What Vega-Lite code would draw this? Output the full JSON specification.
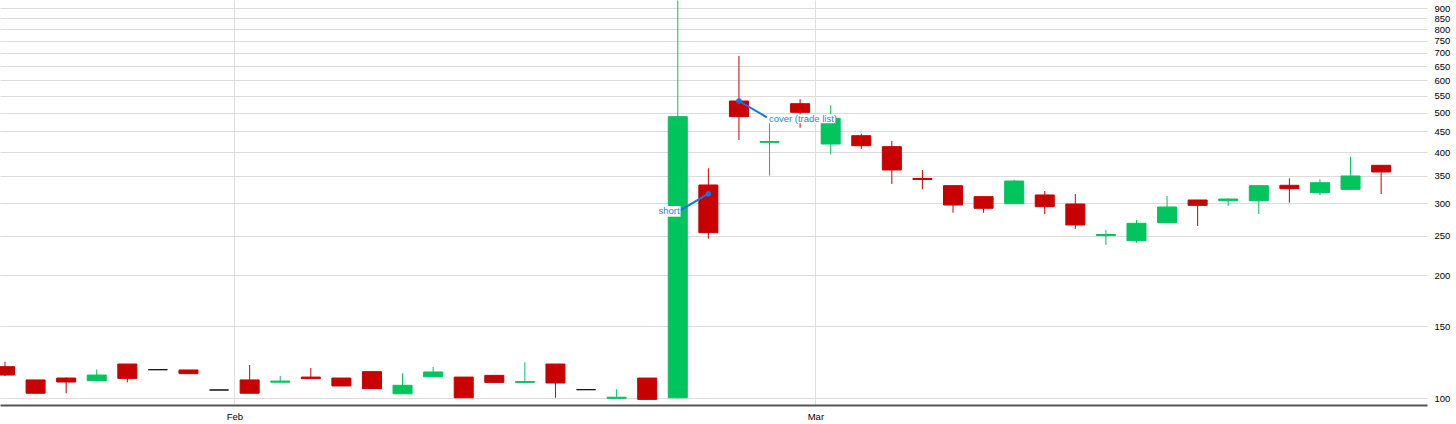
{
  "$schema": "https://vega.github.io/schema/vega-lite/v6.json",
  "width": 1427,
  "height": 405,
  "autosize": {"type": "none"},
  "padding": {"left": 0, "top": 0, "right": 29, "bottom": 19},
  "background": "white",
  "config": {"view": {"stroke": null}, "font": "Liberation Sans"},
  "datasets": {
    "bars": [
      {"i":0,"date":"2021-01-20","open":119.5,"high":122.9,"low":113.4,"close":114.0},
      {"i":1,"date":"2021-01-21","open":110.9,"high":110.9,"low":102.9,"close":102.9},
      {"i":2,"date":"2021-01-22","open":112.1,"high":112.4,"low":102.9,"close":109.6},
      {"i":3,"date":"2021-01-25","open":110.4,"high":117.7,"low":110.4,"close":114.0},
      {"i":4,"date":"2021-01-26","open":121.3,"high":121.3,"low":109.4,"close":111.9},
      {"i":5,"date":"2021-01-27","open":117.5,"high":117.5,"low":117.5,"close":117.5},
      {"i":6,"date":"2021-01-28","open":117.3,"high":117.3,"low":114.9,"close":114.9},
      {"i":7,"date":"2021-01-29","open":104.8,"high":104.8,"low":104.8,"close":104.8},
      {"i":8,"date":"2021-02-01","open":110.9,"high":120.6,"low":102.9,"close":102.9},
      {"i":9,"date":"2021-02-02","open":109.5,"high":113.4,"low":109.5,"close":110.2},
      {"i":10,"date":"2021-02-03","open":112.7,"high":118.6,"low":111.7,"close":111.7},
      {"i":11,"date":"2021-02-04","open":112.1,"high":112.1,"low":107.2,"close":107.2},
      {"i":12,"date":"2021-02-05","open":116.2,"high":116.2,"low":105.6,"close":105.6},
      {"i":13,"date":"2021-02-08","open":102.6,"high":115.1,"low":102.6,"close":107.6},
      {"i":14,"date":"2021-02-09","open":112.9,"high":119.3,"low":112.9,"close":116.0},
      {"i":15,"date":"2021-02-10","open":112.7,"high":112.7,"low":100.3,"close":100.3},
      {"i":16,"date":"2021-02-11","open":113.8,"high":113.8,"low":109.4,"close":109.4},
      {"i":17,"date":"2021-02-12","open":109.4,"high":122.5,"low":109.4,"close":109.9},
      {"i":18,"date":"2021-02-16","open":121.3,"high":121.3,"low":100.3,"close":109.0},
      {"i":19,"date":"2021-02-17","open":105.0,"high":105.0,"low":105.0,"close":105.0},
      {"i":20,"date":"2021-02-18","open":100.0,"high":105.2,"low":100.0,"close":100.6},
      {"i":21,"date":"2021-02-19","open":112.1,"high":112.1,"low":99.4,"close":99.4},
      {"i":22,"date":"2021-02-22","open":100.3,"high":940,"low":100.0,"close":488.7},
      {"i":23,"date":"2021-02-23","open":332.6,"high":365.4,"low":245.8,"close":254.2},
      {"i":24,"date":"2021-02-24","open":533.8,"high":688,"low":428.6,"close":488.7},
      {"i":25,"date":"2021-02-25","open":423,"high":491,"low":350.5,"close":425},
      {"i":26,"date":"2021-02-26","open":525.8,"high":539,"low":459.3,"close":500.9},
      {"i":27,"date":"2021-03-01","open":419,"high":521,"low":395.3,"close":484.3},
      {"i":28,"date":"2021-03-02","open":439,"high":444,"low":407.3,"close":415},
      {"i":29,"date":"2021-03-03","open":412.7,"high":426.2,"low":334.5,"close":361.9},
      {"i":30,"date":"2021-03-04","open":345,"high":361.9,"low":324.6,"close":343},
      {"i":31,"date":"2021-03-05","open":331.3,"high":331.3,"low":284.5,"close":297.1},
      {"i":32,"date":"2021-03-08","open":311.4,"high":311.4,"low":284.5,"close":291.7},
      {"i":33,"date":"2021-03-09","open":299.3,"high":342.1,"low":299.3,"close":340.1},
      {"i":34,"date":"2021-03-10","open":314.4,"high":321.5,"low":282.4,"close":294.3},
      {"i":35,"date":"2021-03-11","open":298.8,"high":316.1,"low":259.6,"close":265.5},
      {"i":36,"date":"2021-03-12","open":250.2,"high":258.1,"low":237.2,"close":251.6},
      {"i":37,"date":"2021-03-15","open":243,"high":273,"low":240.3,"close":268},
      {"i":38,"date":"2021-03-16","open":268.9,"high":312.6,"low":268.9,"close":293.8},
      {"i":39,"date":"2021-03-17","open":305.6,"high":305.6,"low":264,"close":296.6},
      {"i":40,"date":"2021-03-18","open":304.4,"high":308.5,"low":295.5,"close":307.3},
      {"i":41,"date":"2021-03-19","open":304.4,"high":331.3,"low":282.4,"close":331.3},
      {"i":42,"date":"2021-03-22","open":332,"high":345.3,"low":301,"close":325.7},
      {"i":43,"date":"2021-03-23","open":318.5,"high":343.4,"low":313.9,"close":336.9},
      {"i":44,"date":"2021-03-24","open":324.6,"high":390,"low":324.6,"close":349.9},
      {"i":45,"date":"2021-03-25","open":371.6,"high":371.6,"low":316.1,"close":357.9}
    ],
    "trades": [
      {"label":"short","i":23,"v":316.7,"ex":22.07,"ev":287.7,"bx0":21.31,"bx1":22.09,"by0":278.2,"by1":295.5,"tx":22.06,"tv":286.8},
      {"label":"cover (trade list)","i":24,"v":533.8,"ex":24.91,"ev":487,"bx0":24.95,"bx1":27.17,"by0":470.8,"by1":495.3,"tx":24.98,"tv":483.7}
    ]
  },
  "layer": [
    {
      "data": {"name": "bars"},
      "mark": {"type": "rule", "strokeWidth": 1, "clip": true},
      "encoding": {
        "x": {"field": "i", "type": "quantitative",
              "scale": {"domain": [-0.1635, 46.5], "nice": false, "zero": false, "padding": 0},
              "axis": {"values": [7.5, 26.5], "labelExpr": "datum.value < 20 ? 'Feb' : 'Mar'",
                       "title": null, "ticks": false, "grid": true, "gridColor": "#e0e0e0",
                       "domainColor": "#555555", "domainWidth": 2, "labelFontSize": 9.5,
                       "labelColor": "#000000", "labelPadding": 6, "labelFont": "Liberation Sans"}},
        "y": {"field": "low", "type": "quantitative",
              "scale": {"type": "log", "domain": [96.3, 943], "nice": false, "zero": false, "padding": 0},
              "axis": {"orient": "right", "values": [100,150,200,250,300,350,400,450,500,550,600,650,700,750,800,850,900],
                       "title": null, "ticks": false, "domain": false, "grid": true, "gridColor": "#dcdcdc",
                       "labelFontSize": 9.5, "labelColor": "#000000", "labelPadding": 7, "labelFont": "Liberation Sans"}},
        "y2": {"field": "high"},
        "color": {"condition": [{"test": "datum.close > datum.open", "value": "#00c45c"},
                                {"test": "datum.close < datum.open", "value": "#c80000"}],
                  "value": "#111111"}
      }
    },
    {
      "data": {"name": "bars"},
      "mark": {"type": "bar", "width": 19, "strokeWidth": 1, "clip": true},
      "encoding": {
        "x": {"field": "i", "type": "quantitative"},
        "y": {"field": "open", "type": "quantitative"},
        "y2": {"field": "close"},
        "color": {"condition": [{"test": "datum.close > datum.open", "value": "#00c45c"},
                                {"test": "datum.close < datum.open", "value": "#c80000"}],
                  "value": "#111111"},
        "stroke": {"condition": [{"test": "datum.close > datum.open", "value": "#00c45c"},
                                 {"test": "datum.close < datum.open", "value": "#c80000"}],
                   "value": "#111111"}
      }
    },
    {
      "data": {"name": "trades"},
      "mark": {"type": "rule", "strokeWidth": 2, "color": "#0a78f0"},
      "encoding": {
        "x": {"field": "i", "type": "quantitative"},
        "y": {"field": "v", "type": "quantitative"},
        "x2": {"field": "ex"},
        "y2": {"field": "ev"}
      }
    },
    {
      "data": {"name": "trades"},
      "mark": {"type": "point", "filled": true, "size": 30, "opacity": 1, "color": "#0a78f0"},
      "encoding": {
        "x": {"field": "i", "type": "quantitative"},
        "y": {"field": "v", "type": "quantitative"}
      }
    },
    {
      "data": {"name": "trades"},
      "mark": {"type": "rect", "color": "white", "opacity": 1},
      "encoding": {
        "x": {"field": "bx0", "type": "quantitative"},
        "x2": {"field": "bx1"},
        "y": {"field": "by0", "type": "quantitative"},
        "y2": {"field": "by1"}
      }
    },
    {
      "data": {"name": "trades"},
      "transform": [{"filter": "datum.label == 'short'"}],
      "mark": {"type": "text", "align": "right", "baseline": "middle", "fontSize": 9.5, "color": "#2a86ee", "font": "Liberation Sans"},
      "encoding": {
        "x": {"field": "tx", "type": "quantitative"},
        "y": {"field": "tv", "type": "quantitative"},
        "text": {"field": "label"}
      }
    },
    {
      "data": {"name": "trades"},
      "transform": [{"filter": "datum.label != 'short'"}],
      "mark": {"type": "text", "align": "left", "baseline": "middle", "fontSize": 9.5, "color": "#2a86ee", "font": "Liberation Sans"},
      "encoding": {
        "x": {"field": "tx", "type": "quantitative"},
        "y": {"field": "tv", "type": "quantitative"},
        "text": {"field": "label"}
      }
    }
  ]
}
